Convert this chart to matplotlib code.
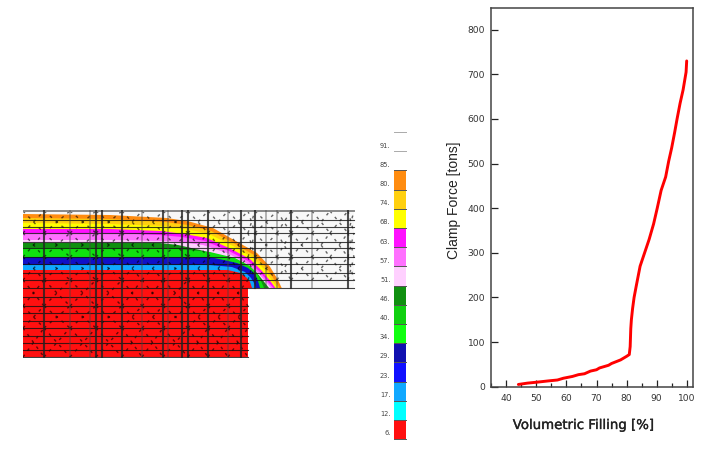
import matplotlib
matplotlib.use('Agg')
import matplotlib.pyplot as plt
import matplotlib.patheffects as pe
from matplotlib.ticker import MultipleLocator

W, H = 703, 454

# right panel
filling = [44, 47, 50, 54, 57, 59, 62, 64, 66, 68, 70, 71, 74, 75, 78, 80, 80.9, 81.2, 81.4, 81.6, 82, 82.5,
           83.2, 84.5, 86, 87.5, 89, 90.2, 91.5, 93, 94, 95, 96, 96.8, 97.8, 98.8, 99.8, 100]
clamp = [5, 8, 10, 13, 15, 19, 23, 27, 29, 35, 38, 42, 48, 52, 60, 68, 72, 90, 130, 150, 175, 200,
         225, 270, 300, 330, 365, 400, 440, 470, 505, 535, 570, 600, 635, 665, 705, 730]
x_ticks = [40, 50, 60, 70, 80, 90, 100]
y_ticks = [0, 100, 200, 300, 400, 500, 600, 700, 800]

# colour scale
scale_colors = ['#ff1010', '#00ffff', '#10a8ff', '#1010ff', '#1010b0', '#10ff10', '#10d010', '#109010',
                '#ffd0ff', '#ff70ff', '#ff10ff', '#ffff00', '#ffd010', '#ff8c10']
scale_labels = ['6.', '12.', '17.', '23.', '29.', '34.', '40.', '46.', '51.', '57.', '63.', '68.', '74.',
                '80.', '85.', '91.']

# fill bands, outermost first: colour, contour (x, y) in mesh units
band_colors = ['#ff8c10', '#ffd010', '#ffff00', '#ff10ff', '#ff70ff', '#ffd0ff', '#109010', '#10e010',
               '#1010c8', '#10a8ff', '#ff1010']
band_x = [
    [23, 110, 167, 190, 213, 237, 257, 270, 278, 281.7],
    [23, 110, 165, 188, 211, 235, 254, 267, 275, 279.5],
    [23, 110, 163, 186, 209, 233, 252, 265, 273, 277.5],
    [23, 110, 161, 184, 207, 231, 250, 262, 271, 275.5],
    [23, 110, 160, 182, 205, 229, 248, 260, 269, 273.5],
    [23, 110, 160, 180, 203, 227, 246, 258, 267, 271],
    [23, 110, 160, 178, 200, 223, 243, 257, 265, 269],
    [23, 110, 160, 178, 210, 235, 250, 257, 261, 264],
    [23, 110, 160, 190, 210, 237, 248, 255, 258, 260],
    [23, 110, 160, 190, 210, 232, 245, 251, 254, 256],
    [23, 110, 160, 190, 210, 228, 240, 246, 250, 252],
]
band_y = [
    [214, 215, 218, 221.7, 228, 241.7, 253, 266.7, 280, 288],
    [218, 219, 222, 225, 231, 244, 255, 268, 281, 288],
    [223, 224, 226, 229, 234, 246, 257, 270, 282, 288],
    [229, 229, 231, 234, 238, 249, 259, 271, 282, 288],
    [233, 233, 235, 237, 241, 251, 261, 272, 283, 288],
    [240, 240, 241, 242, 245, 253, 263, 273, 283, 288],
    [243, 243, 243, 245, 250, 256, 264, 273, 283, 288],
    [248, 248, 249, 249, 252, 258, 266, 273, 281, 288],
    [257, 257, 257, 257, 257, 263, 268, 274, 281, 288],
    [265, 265, 265, 265, 265, 267, 272, 278, 283, 288],
    [270, 270, 270, 270, 270, 270, 273, 277, 282, 288],
]

# mesh lines
mesh_x_dark = [44, 96, 102, 122, 163, 182, 188, 208, 241, 255, 291, 348]
mesh_x_light = [70, 90, 142, 168, 228, 266, 277, 312]
mesh_y = [220, 227, 233, 242, 248, 257, 264, 273, 280, 288, 297, 306, 313, 321, 328, 336, 343, 350, 357]
cell_x = [23, 44, 70, 96, 122, 142, 163, 188, 208, 228, 248, 255, 277, 291, 312, 330, 348, 354]
cell_y = [211, 233, 257, 280, 306, 328, 357]


def px_axes(left, top, right, bottom):
    return fig.add_axes([left / W, 1 - bottom / H, (right - left) / W, (bottom - top) / H])


fig = plt.figure(figsize=(W / 100, H / 100), dpi=100)

# left panel
ax = px_axes(23, 210, 356, 358)
ax.set_xlim(23, 356)
ax.set_ylim(358, 210)
ax.axis('off')
ax.fill([23, 354, 354, 23], [211, 211, 288, 288], color='#f8f8f8', lw=0, zorder=1)
for bx, by, c in zip(band_x, band_y, band_colors):
    ax.fill(bx + [23], by + [288], color=c, lw=0, zorder=2)
ax.fill([23, 248, 248, 23], [287, 287, 357, 357], color='#ff1010', lw=0, zorder=2)

for i in range(len(cell_x) - 1):
    for j in range(len(cell_y) - 1):
        x0, x1 = cell_x[i], cell_x[i + 1]
        y0, y1 = cell_y[j], cell_y[j + 1]
        if x0 >= 248 and y0 >= 280:
            continue
        if x0 >= 248:
            y1 = min(y1, 288)
        ax.plot([x0, x1], [y0, y1], color='black', lw=1.0, ls=(0, (2, 3.5)), alpha=0.6, zorder=3)
        ax.plot([x0, x1], [y1, y0], color='black', lw=1.0, ls=(0, (2, 3.5)), alpha=0.6, zorder=3)

for y in mesh_y:
    ax.plot([23, 354 if y <= 288 else 248], [y, y], color='#111111', lw=0.8, alpha=0.8, zorder=4)
ax.plot([23, 354], [211, 211], color='#888888', lw=1.4, zorder=4)
for x in mesh_x_light:
    ax.plot([x, x], [211, 357 if x < 248 else 288], color='#444444', lw=1.2, alpha=0.45, zorder=4)
for x in mesh_x_dark:
    ax.plot([x, x], [211, 357 if x < 248 else 288], color='#222222', lw=1.5, alpha=0.8, zorder=5)

# colour scale
cax = px_axes(394, 120, 406, 440)
cax.set_xlim(0, 1)
cax.set_ylim(-0.04, 320 / 19.2 - 0.04)
cax.axis('off')
cax.bar([0.5] * len(scale_colors), [1] * len(scale_colors), width=1, bottom=list(range(len(scale_colors))),
        color=scale_colors, lw=0)
for i in range(len(scale_colors) + 3):
    cax.plot([0, 1], [i, i], color='#555555' if i < 15 else '#aaaaaa', lw=0.7, clip_on=False)
for i, s in enumerate(scale_labels):
    fig.text(390.5 / W, 1 - (433 - i * 19.15) / H, s, fontsize=4.8, color='#444444', ha='right', va='center')

# right panel
ax2 = px_axes(490.7, 8, 693, 386.7)
ax2.plot(filling, clamp, color='#ff0000', lw=2.1, solid_capstyle='round', zorder=3)
ax2.set_xlim(34.8, 102.1)
ax2.set_ylim(0, 848.6)
ax2.set_xticks(x_ticks)
ax2.set_yticks(y_ticks)
ax2.xaxis.set_minor_locator(MultipleLocator(5))
ax2.tick_params(axis='both', which='major', direction='in', length=5, width=0.9, color='#222222',
                labelsize=6.6, labelcolor='#333333', pad=5)
ax2.tick_params(axis='x', which='minor', direction='in', length=3, width=0.9, color='#222222')
ax2.tick_params(axis='y', pad=4)
for s in ax2.spines.values():
    s.set_color('#444444')
    s.set_linewidth(1.1)
xl = fig.text(584 / W, 1 - 425.5 / H, 'Volumetric Filling [%]', fontsize=9.6, color='#222222', ha='center',
              va='center')
xl.set_path_effects([pe.withStroke(linewidth=0.25, foreground='#222222')])
fig.text(454 / W, 1 - 200 / H, 'Clamp Force [tons]', fontsize=10, color='#222222', rotation=90, ha='center',
         va='center', family='Liberation Sans')

fig.savefig('out.png', dpi=100)
